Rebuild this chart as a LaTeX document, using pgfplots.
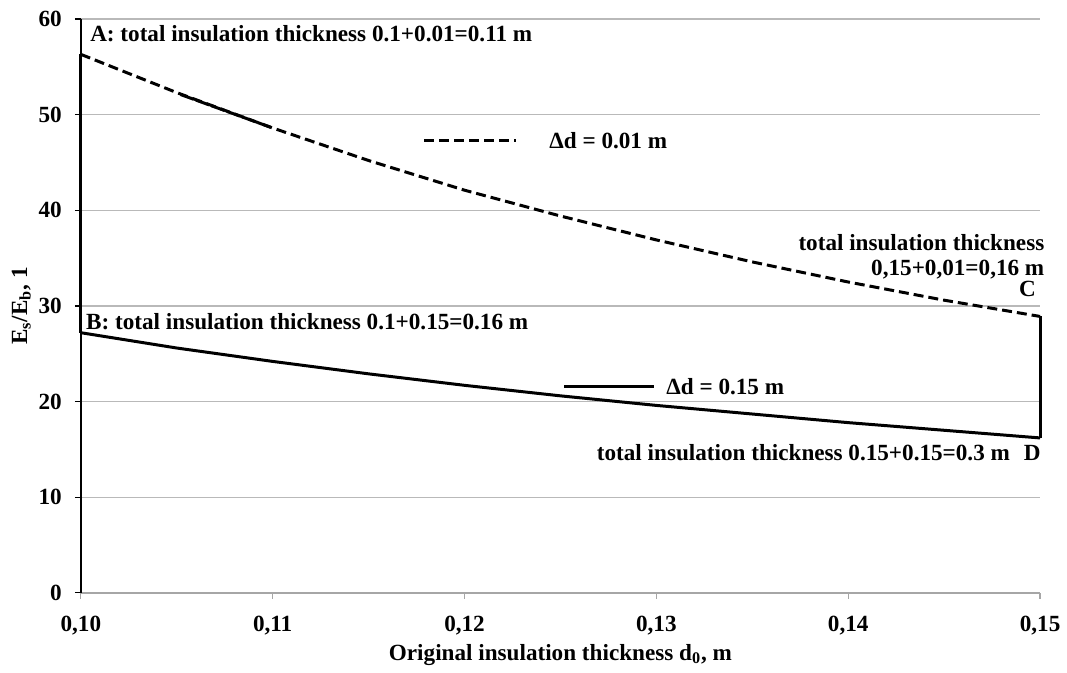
\documentclass[border=0pt]{standalone}
\usepackage{pgfplots}
\pgfplotsset{compat=1.18}
\usepackage{fontspec}
\setmainfont{Liberation Serif}
\begin{document}
\begin{tikzpicture}
\def\fnt{\fontsize{11.6}{13.5}\selectfont\bfseries}
\begin{axis}[
  at={(0,0)}, anchor=south west,
  scale only axis, width=480.5pt, height=287.5pt,
  xmin=0.10, xmax=0.15, ymin=0, ymax=60,
  clip=false,
  xtick={0.10,0.11,0.12,0.13,0.14,0.15},
  xticklabels={{0,10},{0,11},{0,12},{0,13},{0,14},{0,15}},
  ytick={0,10,20,30,40,50,60},
  yticklabels={0,10,20,30,40,50,60},
  axis x line*=bottom, axis y line*=left,
  x axis line style={draw=gray!70, line width=1pt, -},
  y axis line style={draw=black, line width=0.8pt, -},
  ymajorgrids, major grid style={gray!55, line width=0.6pt},
  tick align=outside, major tick length=3pt,
  x tick style={gray!70, line width=0.6pt},
  y tick style={black, line width=0.6pt},
  ticklabel style={font=\fnt},
  xticklabel style={yshift=-5pt},
  yticklabel style={xshift=-3pt},
  xlabel={Original insulation thickness d\textsubscript{0}, m},
  ylabel={E\textsubscript{s}/E\textsubscript{b}, 1},
  label style={font=\fnt},
  xlabel style={at={(axis description cs:0.5,-0.1078)}, anchor=center},
  ylabel style={at={(axis description cs:-0.0620,0.5)}, anchor=center},
]
% dashed curve (delta d = 0.01 m)
\addplot[black, line width=1.5pt, dash pattern=on 5pt off 2.5pt] coordinates {
 (0.100,56.3) (0.105,52.3) (0.110,48.6) (0.115,45.2) (0.120,42.1) (0.125,39.4)
 (0.130,36.9) (0.135,34.6) (0.140,32.5) (0.145,30.6) (0.150,28.9)};
\addplot[black, line width=1.5pt, dash pattern=on 7pt off 1.2pt] coordinates {(0.1052,52.1) (0.1100,48.6)};
% solid curve (delta d = 0.15 m)
\addplot[black, line width=1.5pt] coordinates {
 (0.100,27.2) (0.105,25.6) (0.110,24.2) (0.115,22.9) (0.120,21.7) (0.125,20.6)
 (0.130,19.6) (0.135,18.7) (0.140,17.8) (0.145,17.0) (0.150,16.2)};
% vertical connectors
\addplot[black, line width=1.5pt] coordinates {(0.100,27.2) (0.100,56.3)};
\addplot[black, line width=1.5pt] coordinates {(0.150,16.2) (0.150,28.9)};
% legend samples
\addplot[black, line width=1.5pt, dash pattern=on 5pt off 2.5pt] coordinates {(0.1179,47.3) (0.1227,47.3)};
\addplot[black, line width=1.5pt] coordinates {(0.1252,21.6) (0.1299,21.6)};
\node[anchor=west, font=\fnt, inner sep=0pt] at (axis cs:0.1244,47.3) {Δd = 0.01 m};
\node[anchor=west, font=\fnt, inner sep=0pt] at (axis cs:0.1305,21.6) {Δd = 0.15 m};
% annotations
\node[anchor=west, font=\fnt, inner sep=0pt] at (axis cs:0.10047,58.5) {A: total insulation thickness 0.1+0.01=0.11 m};
\node[anchor=west, font=\fnt, inner sep=0pt] at (axis cs:0.10026,28.4) {B: total insulation thickness 0.1+0.15=0.16 m};
\node[anchor=east, font=\fnt, inner sep=0pt] at (axis cs:0.15024,36.6) {total insulation thickness};
\node[anchor=east, font=\fnt, inner sep=0pt] at (axis cs:0.15024,33.8) {0,15+0,01=0,16 m};
\node[anchor=east, font=\fnt, inner sep=0pt] at (axis cs:0.14980,31.8) {C};
\node[anchor=east, font=\fnt, inner sep=0pt] at (axis cs:0.15005,14.7) {total insulation thickness 0.15+0.15=0.3 m\hspace{7pt}D};
\end{axis}
\path (-40.5pt,-38pt) rectangle (493pt,297pt);
\end{tikzpicture}
\end{document}
